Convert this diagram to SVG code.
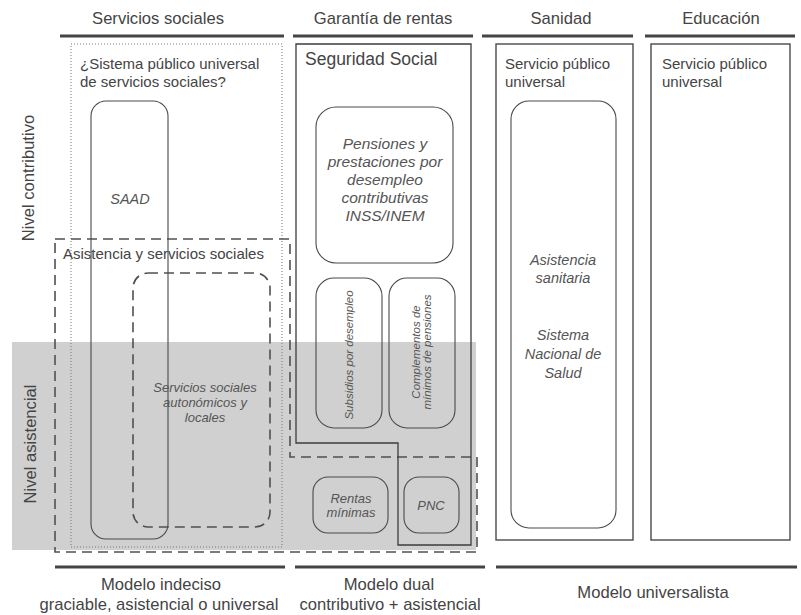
<svg xmlns="http://www.w3.org/2000/svg" width="801" height="615" viewBox="0 0 801 615">
<style>
text{font-family:"Liberation Sans",Arial,sans-serif;fill:#444}
.h{font-size:16.6px;text-anchor:middle}
.t{font-size:15px}
.it{font-style:italic;fill:#555;text-anchor:middle}
.solid{fill:none;stroke:#3c3c3c;stroke-width:1.3}
.box{fill:none;stroke:#4a4a4a;stroke-width:1.1}
.dash{fill:none;stroke:#505050;stroke-width:1.6;stroke-dasharray:10 6}
.dot{fill:none;stroke:#777;stroke-width:1;stroke-dasharray:1 2}
.rule{stroke:#444;stroke-width:3}
</style>
<rect x="0" y="0" width="801" height="615" fill="#fff"/>
<rect id="nivel-asistencial-band" x="12" y="342" width="464" height="208" fill="#d0d0d0"/>

<g id="connectors">
<line class="rule" x1="60" y1="36" x2="284" y2="36"/>
<line class="rule" x1="293" y1="36" x2="473" y2="36"/>
<line class="rule" x1="482" y1="36" x2="633" y2="36"/>
<line class="rule" x1="645" y1="36" x2="795" y2="36"/>
<line class="rule" x1="55" y1="567" x2="285" y2="567"/>
<line class="rule" x1="295" y1="567" x2="485" y2="567"/>
<line class="rule" x1="496" y1="567" x2="797" y2="567"/>
</g>

<g id="headers">
<text class="h" x="158" y="24">Servicios sociales</text>
<text class="h" x="383" y="24">Garantía de rentas</text>
<text class="h" x="561" y="24">Sanidad</text>
<text class="h" x="721" y="24">Educación</text>
</g>

<g id="levels">
<text class="h" transform="translate(34,178) rotate(-90)">Nivel contributivo</text>
<text class="h" transform="translate(36,444) rotate(-90)">Nivel asistencial</text>
</g>

<g id="sistema-publico-ss">
<rect class="dot" x="71" y="44" width="211" height="503"/>
<text class="t" x="80" y="69">¿Sistema público universal</text>
<text class="t" x="80" y="87">de servicios sociales?</text>
</g>

<g id="asistencia-ss">
<polygon class="dash" points="55,239 290,239 290,457 477,457 477,552 55,552"/>
<text class="t" x="63" y="259">Asistencia y servicios sociales</text>
</g>

<g id="saad">
<rect class="box" x="91" y="101" width="77" height="438" rx="15"/>
<text class="it" x="130" y="204" style="font-size:14.5px">SAAD</text>
</g>

<g id="ss-autonomicos">
<rect class="dash" x="133" y="273" width="137" height="254" rx="15"/>
<text class="it" x="205" y="392" style="font-size:13px">Servicios sociales</text>
<text class="it" x="205" y="407" style="font-size:13px">autonómicos y</text>
<text class="it" x="205" y="422" style="font-size:13px">locales</text>
</g>

<g id="seguridad-social">
<polygon class="solid" points="296,44 471,44 471,545 398,545 398,443 296,443"/>
<text x="305" y="65" style="font-size:17.5px">Seguridad Social</text>
</g>

<g id="pensiones">
<rect class="box" x="316" y="107" width="137" height="156" rx="20"/>
<text class="it" x="385" y="149" style="font-size:15.5px">Pensiones y</text>
<text class="it" x="385" y="167" style="font-size:15.5px">prestaciones por</text>
<text class="it" x="385" y="185" style="font-size:15.5px">desempleo</text>
<text class="it" x="385" y="203" style="font-size:15.5px">contributivas</text>
<text class="it" x="385" y="221" style="font-size:15.5px">INSS/INEM</text>
</g>

<g id="subsidios">
<rect class="box" x="316" y="278" width="66" height="150" rx="18"/>
<text class="it" transform="translate(353,355) rotate(-90)" style="font-size:11.5px">Subsidios por desempleo</text>
</g>

<g id="complementos">
<rect class="box" x="389" y="278" width="66" height="150" rx="18"/>
<text class="it" transform="translate(419.5,352) rotate(-90)" style="font-size:11.5px">Complementos de</text>
<text class="it" transform="translate(431,352) rotate(-90)" style="font-size:11.5px">mínimos de pensiones</text>
</g>

<g id="rentas-minimas">
<rect class="box" x="313" y="477" width="75" height="56" rx="15"/>
<text class="it" x="351" y="503" style="font-size:13px">Rentas</text>
<text class="it" x="351" y="517" style="font-size:13px">mínimas</text>
</g>

<g id="pnc">
<rect class="box" x="404" y="477" width="55" height="56" rx="15"/>
<text class="it" x="431" y="510" style="font-size:13px">PNC</text>
</g>

<g id="sanidad">
<rect class="solid" x="496" y="44" width="137" height="496"/>
<text class="t" x="505" y="69">Servicio público</text>
<text class="t" x="505" y="87">universal</text>
</g>

<g id="sns">
<rect class="box" x="511" y="101" width="105" height="427" rx="18"/>
<text class="it" x="563" y="265" style="font-size:14.5px">Asistencia</text>
<text class="it" x="563" y="283" style="font-size:14.5px">sanitaria</text>
<text class="it" x="563" y="340" style="font-size:14.5px">Sistema</text>
<text class="it" x="563" y="359" style="font-size:14.5px">Nacional de</text>
<text class="it" x="563" y="378" style="font-size:14.5px">Salud</text>
</g>

<g id="educacion">
<rect class="solid" x="651" y="44" width="139" height="496"/>
<text class="t" x="662" y="69">Servicio público</text>
<text class="t" x="662" y="87">universal</text>
</g>

<g id="footers">
<text class="h" x="161" y="590">Modelo indeciso</text>
<text class="h" x="159" y="610">graciable, asistencial o universal</text>
<text class="h" x="389" y="590">Modelo dual</text>
<text class="h" x="390" y="610">contributivo + asistencial</text>
<text class="h" x="653" y="598">Modelo universalista</text>
</g>
</svg>
